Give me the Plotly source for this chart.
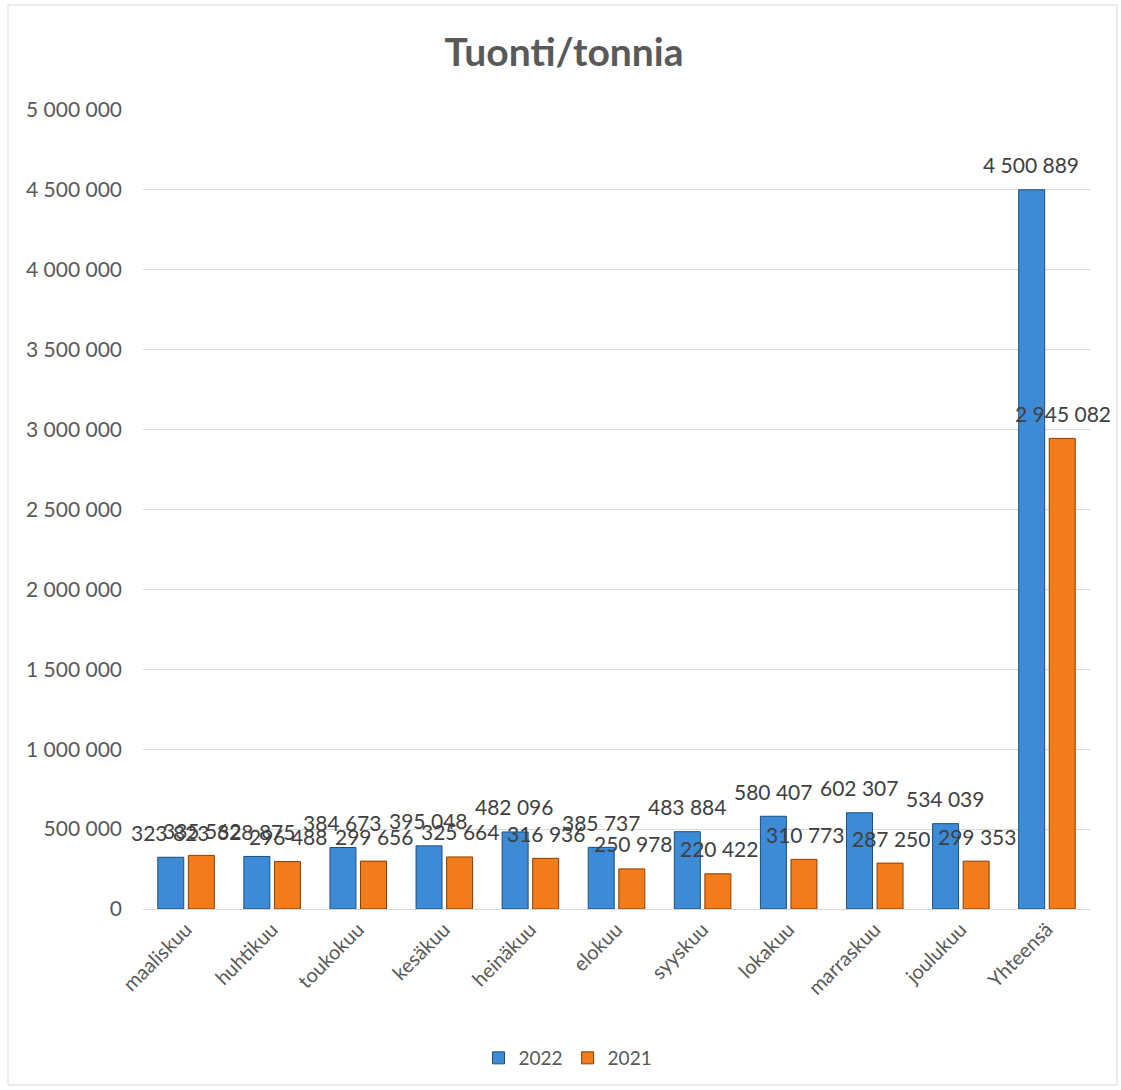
import plotly.graph_objects as go

categories = ["maaliskuu", "huhtikuu", "toukokuu", "kesäkuu", "heinäkuu", "elokuu",
              "syyskuu", "lokakuu", "marraskuu", "joulukuu", "Yhteensä"]
values_2022 = [323823, 328875, 384673, 395048, 482096, 385737, 483884, 580407, 602307, 534039, 4500889]
values_2021 = [335562, 296488, 299656, 325664, 316936, 250978, 220422, 310773, 287250, 299353, 2945082]
tick_values = [0, 500000, 1000000, 1500000, 2000000, 2500000, 3000000, 3500000, 4000000, 4500000, 5000000]


def fmt(v):
    return f"{v:,}".replace(",", " ")


FONT = "Lato, Calibri, Carlito, sans-serif"
GREY = "#595959"

fig = go.Figure()
fig.add_trace(go.Bar(
    name="2022", x=categories, y=values_2022,
    marker=dict(color="#3d8ad6", line=dict(color="#1f4e79", width=1)),
))
fig.add_trace(go.Bar(
    name="2021", x=categories, y=values_2021,
    marker=dict(color="#f27b1a", line=dict(color="#8a3c05", width=1)),
))

L, R, T, B = 143, 31, 110, 181
W, H = 1121, 1090
pw, ph = W - L - R, H - T - B

# data labels (above each bar, Excel-style)
for vals, shift in ((values_2022, -16), (values_2021, 16)):
    for c, v in zip(categories, vals):
        fig.add_annotation(x=c, y=v, xref="x", yref="y", text=fmt(v),
                           showarrow=False, xshift=shift, yshift=25,
                           xanchor="center", yanchor="middle",
                           font=dict(size=21, color="#404040", family=FONT))

fig.update_layout(
    width=W, height=H,
    margin=dict(l=L, r=R, t=T, b=B),
    paper_bgcolor="white", plot_bgcolor="white",
    font=dict(family=FONT, color=GREY, size=17),
    title=dict(text="<b>Tuonti/tonnia</b>", x=(564 - L) / pw, xref="paper",
               xanchor="center", y=1 - 52 / H, yanchor="middle",
               font=dict(size=39, color=GREY, family=FONT)),
    barmode="group", bargap=0.29, bargroupgap=0.15,
    legend=dict(orientation="h", x=(568 - L) / pw, xanchor="center",
                y=-(1058 - (T + ph)) / ph, yanchor="middle",
                font=dict(size=19, color=GREY, family=FONT),
                itemwidth=30),
    showlegend=True,
)
fig.update_yaxes(
    range=[0, 5000000], autorange=False, tickvals=tick_values,
    ticktext=[fmt(v) for v in tick_values],
    showgrid=True, gridcolor="#d9d9d9", gridwidth=1, zeroline=False,
    showline=False, ticks="", tickfont=dict(size=21, color=GREY), ticklabelstandoff=20,
)
fig.update_xaxes(
    range=[-0.5, len(categories) - 0.5], autorange=False,
    tickangle=-45, showline=True, linecolor="#d9d9d9", linewidth=1,
    tickfont=dict(size=20, color=GREY), ticks="",
)
# outer chart border
fig.add_shape(type="rect", xref="paper", yref="paper",
              x0=(8 - L) / pw, x1=(1117 - L) / pw,
              y0=-(1085 - (T + ph)) / ph, y1=1 + (T - 5) / ph,
              line=dict(color="#d9d9d9", width=1), layer="below")

fig.write_html("out.html")
